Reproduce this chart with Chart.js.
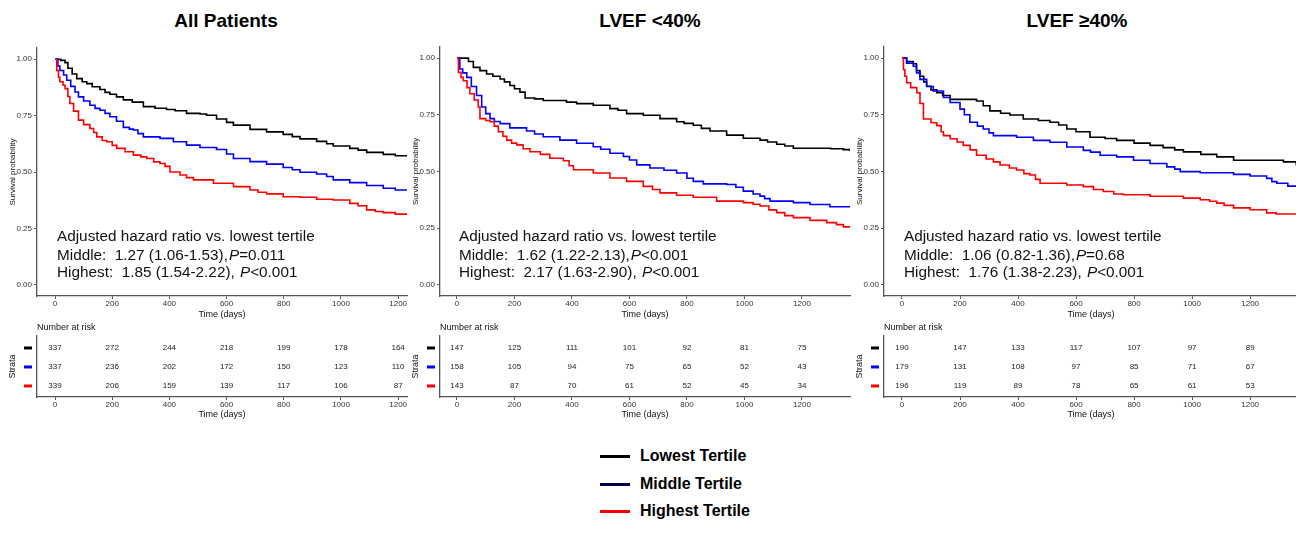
<!DOCTYPE html>
<html>
<head>
<meta charset="utf-8">
<script src="https://cdn.jsdelivr.net/npm/chart.js@4.4.0/dist/chart.umd.min.js"></script>
<style>
  body { margin: 0; width: 1296px; height: 537px; overflow: hidden; background: #fff; position: relative;
         font-family: 'Liberation Sans', Arial, sans-serif; }
  canvas { position: absolute; }
  .title { position: absolute; top: 10px; font-weight: bold; font-size: 19px; color: #000;
           transform: translateX(-50%); white-space: nowrap; }
  .leg { position: absolute; left: 600px; height: 20px; }
  .leg span.line { position: absolute; left: 0; width: 30px; height: 3px; }
  .leg span.txt { position: absolute; left: 40px; font-weight: bold; font-size: 16px; white-space: nowrap; line-height: 20px; }
</style>
</head>
<body>
<script>
// ---- data ----
const timeTicks = [0, 200, 400, 600, 800, 1000, 1200];
const survTicks = [0, 0.25, 0.5, 0.75, 1];
const strataNames = ['Lowest Tertile', 'Middle Tertile', 'Highest Tertile'];
const panelTitles = ['All Patients', 'LVEF <40%', 'LVEF \u226540%'];

// All patients
const allLowT = [0, 20, 35, 45, 60, 76, 95, 111, 130, 157, 175, 192, 215, 239, 270, 309, 350, 390, 420, 460, 507, 530, 565, 600, 624, 682, 740, 798, 830, 857, 915, 950, 973, 1031, 1060, 1090, 1148, 1190, 1232];
const allLowS = [1, .995, .985, .96, .935, .914, .9, .892, .878, .866, .853, .845, .833, .82, .81, .79, .783, .777, .772, .76, .757, .752, .735, .72, .708, .689, .678, .667, .657, .647, .636, .625, .615, .605, .597, .587, .578, .572, .572];
const allMidT = [0, 10, 17, 30, 41, 55, 70, 82, 100, 122, 140, 157, 175, 192, 215, 239, 260, 274, 290, 309, 367, 414, 460, 507, 565, 600, 624, 682, 740, 798, 830, 857, 915, 950, 973, 1031, 1090, 1148, 1190, 1232];
const allMidS = [1, .97, .95, .93, .907, .88, .855, .833, .815, .796, .782, .774, .76, .745, .725, .698, .69, .686, .67, .656, .649, .634, .619, .609, .6, .58, .56, .546, .535, .52, .51, .499, .491, .48, .465, .453, .44, .428, .42, .417];
const allHighT = [0, 6, 12, 17, 28, 35, 45, 52, 65, 82, 100, 122, 135, 146, 165, 181, 200, 216, 245, 274, 300, 321, 345, 367, 385, 402, 437, 460, 484, 554, 624, 682, 710, 740, 798, 857, 915, 973, 1031, 1060, 1090, 1120, 1148, 1190, 1232];
const allHighS = [1, .95, .92, .9, .885, .87, .835, .804, .77, .73, .71, .693, .675, .656, .64, .634, .618, .605, .59, .575, .567, .56, .545, .538, .525, .5, .487, .475, .465, .45, .435, .42, .41, .403, .39, .388, .379, .376, .361, .35, .332, .325, .32, .313, .31];
const allRiskLow = [337, 272, 244, 218, 199, 178, 164];
const allRiskMid = [337, 236, 202, 172, 150, 123, 110];
const allRiskHigh = [339, 206, 159, 139, 117, 106, 87];
const allHR = [['Middle:  1.27 (1.06-1.53),', '=0.011'], ['Highest:  1.85 (1.54-2.22), ', '<0.001']];

// LVEF < 40%
const lowEfLowT = [0, 28, 40, 57, 80, 103, 125, 150, 165, 184, 200, 219, 237, 270, 300, 381, 416, 474, 532, 560, 590, 648, 706, 764, 790, 822, 850, 880, 938, 996, 1054, 1080, 1112, 1140, 1170, 1300, 1344, 1367];
const lowEfLowS = [1, 1, .985, .959, .945, .93, .92, .908, .895, .879, .865, .85, .824, .82, .813, .806, .799, .792, .777, .77, .755, .748, .733, .719, .712, .704, .69, .678, .66, .646, .638, .63, .62, .612, .602, .6, .596, .59];
const lowEfMidT = [0, 10, 20, 34, 50, 68, 86, 100, 115, 130, 150, 184, 242, 270, 300, 358, 416, 474, 500, 532, 579, 600, 625, 671, 720, 764, 800, 822, 857, 938, 970, 996, 1030, 1054, 1070, 1089, 1170, 1228, 1297, 1367];
const lowEfMidS = [1, .952, .935, .915, .875, .835, .784, .755, .733, .72, .711, .692, .678, .665, .653, .638, .624, .609, .598, .58, .566, .55, .529, .515, .505, .493, .47, .456, .445, .442, .43, .413, .4, .391, .38, .369, .362, .354, .344, .344];
const lowEfHighT = [0, 5, 14, 22, 35, 45, 60, 74, 80, 100, 115, 130, 144, 160, 173, 190, 208, 230, 254, 290, 323, 370, 390, 405, 474, 532, 590, 648, 680, 706, 764, 822, 903, 996, 1030, 1054, 1085, 1112, 1140, 1170, 1228, 1286, 1320, 1344, 1367];
const lowEfHighS = [1, .937, .915, .9, .87, .843, .815, .784, .733, .725, .719, .7, .675, .655, .638, .625, .617, .6, .587, .575, .558, .547, .525, .507, .493, .471, .456, .434, .42, .405, .395, .386, .369, .362, .355, .347, .33, .318, .305, .296, .284, .274, .265, .255, .255];
const lowEfRiskLow = [147, 125, 111, 101, 92, 81, 75];
const lowEfRiskMid = [158, 105, 94, 75, 65, 52, 43];
const lowEfRiskHigh = [143, 87, 70, 61, 52, 45, 34];
const lowEfHR = [['Middle:  1.62 (1.22-2.13),', '<0.001'], ['Highest:  2.17 (1.63-2.90), ', '<0.001']];

// LVEF >= 40%
const highEfLowT = [0, 16, 39, 50, 62, 75, 85, 100, 120, 140, 166, 257, 280, 303, 340, 372, 418, 470, 510, 540, 568, 600, 648, 700, 740, 800, 855, 900, 940, 970, 1030, 1085, 1143, 1257, 1315, 1359, 1367];
const highEfLowS = [1, .985, .975, .945, .92, .895, .876, .86, .847, .835, .818, .811, .79, .767, .757, .749, .731, .725, .717, .705, .687, .675, .651, .645, .637, .625, .615, .605, .595, .586, .575, .564, .549, .549, .542, .53, .53];
const highEfMidT = [0, 16, 39, 50, 62, 85, 108, 143, 166, 200, 215, 234, 260, 280, 300, 315, 395, 453, 510, 568, 625, 650, 683, 740, 798, 855, 913, 940, 959, 1028, 1143, 1200, 1257, 1275, 1292, 1330, 1367];
const highEfMidS = [1, .978, .964, .935, .906, .875, .855, .826, .804, .775, .75, .717, .7, .687, .67, .658, .651, .637, .629, .608, .593, .585, .571, .564, .549, .535, .52, .51, .499, .494, .487, .48, .469, .455, .448, .435, .433];
const highEfHighT = [0, 5, 10, 16, 30, 51, 62, 74, 100, 120, 135, 143, 166, 190, 211, 235, 257, 290, 315, 338, 370, 395, 420, 441, 460, 476, 568, 625, 660, 694, 730, 763, 855, 970, 1028, 1060, 1085, 1110, 1143, 1200, 1257, 1290, 1367];
const highEfHighS = [1, .949, .92, .891, .87, .847, .8, .731, .715, .702, .675, .658, .644, .63, .615, .595, .571, .555, .542, .528, .515, .506, .49, .484, .465, .448, .44, .433, .42, .411, .4, .397, .39, .382, .375, .368, .36, .35, .339, .331, .317, .312, .312];
const highEfRiskLow = [190, 147, 133, 117, 107, 97, 89];
const highEfRiskMid = [179, 131, 108, 97, 85, 71, 67];
const highEfRiskHigh = [196, 119, 89, 78, 65, 61, 53];
const highEfHR = [['Middle:  1.06 (0.82-1.36),', '=0.68'], ['Highest:  1.76 (1.38-2.23), ', '<0.001']];

// ---- styles / layout ----
const FONT = "'Liberation Sans', Arial, sans-serif";
const strataColors = ['#000000', '#0000ff', '#ff0000'];
const legendColors = ['#000000', '#000050', '#ff0000'];
const axisColor = '#555';

const panels = [
  { title: panelTitles[0], cx: 226, left: 0, width: 420, top: 8, xMin: -63, xMax: 1231,
    curves: [[allLowT, allLowS], [allMidT, allMidS], [allHighT, allHighS]],
    risk: [allRiskLow, allRiskMid, allRiskHigh], hr: allHR },
  { title: panelTitles[1], cx: 650, left: 403, width: 460, top: 5, xMin: -59, xMax: 1367,
    curves: [[lowEfLowT, lowEfLowS], [lowEfMidT, lowEfMidS], [lowEfHighT, lowEfHighS]],
    risk: [lowEfRiskLow, lowEfRiskMid, lowEfRiskHigh], hr: lowEfHR },
  { title: panelTitles[2], cx: 1077, left: 847, width: 464, top: 4, xMin: -62, xMax: 1365,
    curves: [[highEfLowT, highEfLowS], [highEfMidT, highEfMidS], [highEfHighT, highEfHighS]],
    risk: [highEfRiskLow, highEfRiskMid, highEfRiskHigh], hr: highEfHR }
];

function addCanvas(left, top, w, h) {
  const cv = document.createElement('canvas');
  cv.width = w; cv.height = h;
  cv.style.left = left + 'px'; cv.style.top = top + 'px';
  cv.style.width = w + 'px'; cv.style.height = h + 'px';
  document.body.appendChild(cv);
  return cv;
}

function timeAxis(min, max, h) {
  return {
    type: 'linear', min: min, max: max,
    afterBuildTicks: a => { a.ticks = timeTicks.map(v => ({ value: v })); },
    afterFit: a => { a.height = h; },
    grid: { display: true, drawOnChartArea: false, drawTicks: true, tickLength: 3, color: axisColor, lineWidth: 1 },
    border: { display: true, color: axisColor, width: 1.3 },
    ticks: { font: { size: 8, family: FONT }, color: '#333', padding: 0, maxRotation: 0, autoSkip: false,
             callback: v => String(v) },
    title: { display: true, text: 'Time (days)', font: { size: 9, family: FONT }, color: '#111',
             padding: { top: 0, bottom: 3 } }
  };
}

// text box with adjusted hazard ratios
function hrPlugin(lines) {
  return {
    id: 'hr',
    afterDatasetsDraw(chart) {
      const { ctx, chartArea } = chart;
      const x0 = chart.scales.x.getPixelForValue(0) + 2;
      const ys = [chartArea.bottom - 59, chartArea.bottom - 40, chartArea.bottom - 23];
      const f = '15.3px ' + FONT;
      ctx.save();
      ctx.fillStyle = '#111';
      ctx.textBaseline = 'middle';
      ctx.textAlign = 'left';
      ctx.font = f;
      ctx.fillText('Adjusted hazard ratio vs. lowest tertile', x0, ys[0]);
      lines.forEach((l, i) => {
        ctx.font = f;
        ctx.fillText(l[0], x0, ys[i + 1]);
        let x = x0 + ctx.measureText(l[0]).width + 1;
        ctx.font = 'italic ' + f;
        ctx.fillText('P', x, ys[i + 1]);
        x += ctx.measureText('P').width;
        ctx.font = f;
        ctx.fillText(l[1], x, ys[i + 1]);
      });
      ctx.restore();
    }
  };
}

// numbers at risk table
function riskPlugin(risk) {
  return {
    id: 'risk',
    afterDatasetsDraw(chart) {
      const { ctx, chartArea, scales } = chart;
      ctx.save();
      ctx.textBaseline = 'middle';
      risk.forEach((row, i) => {
        const yy = scales.y.getPixelForValue(3 - i);
        ctx.fillStyle = '#222';
        ctx.textAlign = 'center';
        ctx.font = '8px ' + FONT;
        row.forEach((n, j) => ctx.fillText(String(n), scales.x.getPixelForValue(timeTicks[j]), yy));
        ctx.fillStyle = strataColors[i];
        ctx.fillRect(chartArea.left - 13, yy - 1.5, 8, 3);
      });
      ctx.fillStyle = '#111';
      ctx.textAlign = 'left';
      ctx.font = '9px ' + FONT;
      ctx.fillText('Number at risk', chartArea.left, chartArea.top - 8);
      ctx.translate(13, (chartArea.top + chartArea.bottom) / 2);
      ctx.rotate(-Math.PI / 2);
      ctx.textAlign = 'center';
      ctx.fillText('Strata', 0, 0);
      ctx.restore();
    }
  };
}

panels.forEach(p => {
  const t = document.createElement('div');
  t.className = 'title';
  t.style.left = p.cx + 'px';
  t.textContent = p.title;
  document.body.appendChild(t);

  // survival curves
  new Chart(addCanvas(p.left, 40, p.width, 283), {
    type: 'line',
    data: {
      datasets: p.curves.map((c, i) => ({
        label: strataNames[i],
        data: c[0].map((tt, j) => ({ x: tt, y: c[1][j] })),
        borderColor: strataColors[i],
        borderWidth: 1.6,
        pointRadius: 0,
        stepped: true,
        fill: false,
        order: 2 - i
      }))
    },
    options: {
      responsive: false, animation: false,
      layout: { padding: { top: p.top, right: 13, left: 0, bottom: 0 } },
      plugins: { legend: { display: false }, tooltip: { enabled: false } },
      scales: {
        x: timeAxis(p.xMin, p.xMax, 27),
        y: {
          type: 'linear', min: -0.05, max: 1.05,
          afterBuildTicks: a => { a.ticks = survTicks.map(v => ({ value: v })); },
          afterFit: a => { a.width = 37; },
          grid: { display: true, drawOnChartArea: false, drawTicks: true, tickLength: 3, color: axisColor, lineWidth: 1 },
          border: { display: true, color: axisColor, width: 1.3 },
          ticks: { font: { size: 8, family: FONT }, color: '#333', padding: 2, callback: v => v.toFixed(2) },
          title: { display: true, text: 'Survival probability', font: { size: 8, family: FONT }, color: '#111',
                   padding: { top: 8, bottom: 0 } }
        }
      }
    },
    plugins: [hrPlugin(p.hr)]
  });

  // risk table
  new Chart(addCanvas(p.left, 322, p.width, 101), {
    type: 'line',
    data: { datasets: [] },
    options: {
      responsive: false, animation: false,
      layout: { padding: { top: 14, right: 13, left: 0, bottom: 0 } },
      plugins: { legend: { display: false }, tooltip: { enabled: false } },
      scales: {
        x: timeAxis(p.xMin, p.xMax, 26),
        y: {
          type: 'linear', min: 0.42, max: 3.63,
          afterFit: a => { a.width = 37; },
          grid: { display: false },
          border: { display: true, color: axisColor, width: 1.3 },
          ticks: { display: false }
        }
      }
    },
    plugins: [riskPlugin(p.risk)]
  });
});

// shared legend
const legTops = [446, 474, 501];
strataNames.forEach((name, i) => {
  const d = document.createElement('div');
  d.className = 'leg';
  d.style.top = legTops[i] + 'px';
  d.innerHTML = '<span class="line" style="top:9px;background:' + legendColors[i] + '"></span>' +
                '<span class="txt">' + name + '</span>';
  document.body.appendChild(d);
});
</script>
</body>
</html>
